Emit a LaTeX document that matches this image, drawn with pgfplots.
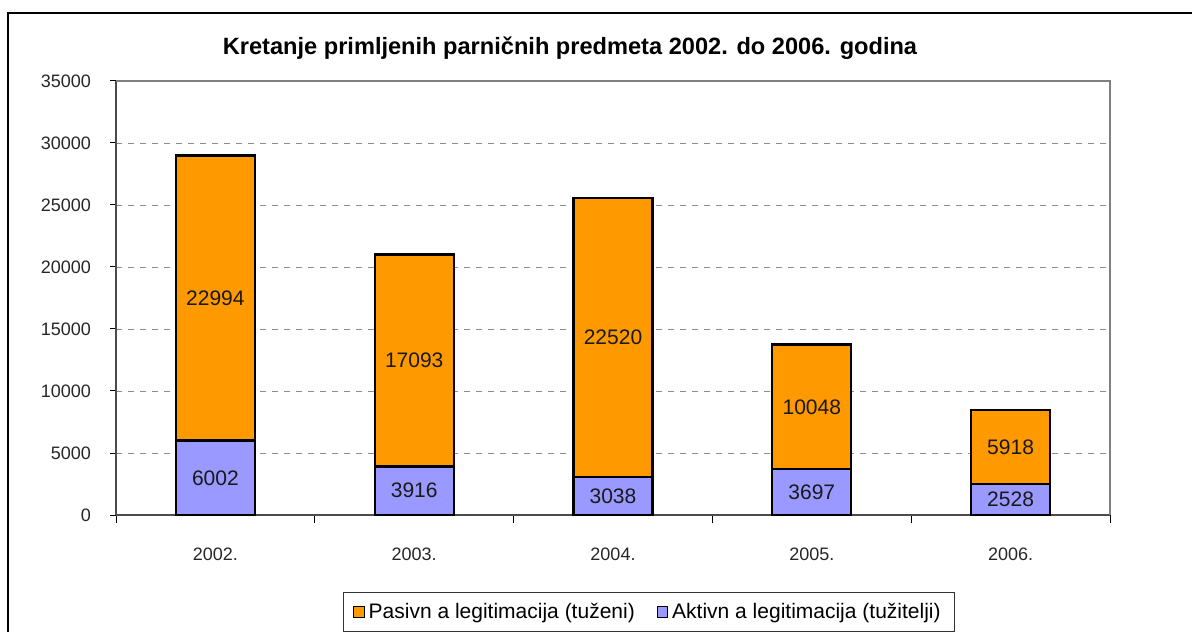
\documentclass[border=0pt]{standalone}
\usepackage{fontspec}
\setmainfont{Liberation Sans}
\usepackage{pgfplots}
\usepackage{pgfplotstable}
\pgfplotsset{compat=1.18}
\definecolor{Pas}{HTML}{FF9900}
\definecolor{Akt}{HTML}{9999FF}
\definecolor{Frame}{HTML}{808080}

\pgfplotstableread{
x akt pas
0 6002 22994
1 3916 17093
2 3038 22520
3 3697 10048
4 2528 5918
}\data

\pgfplotsset{common/.style={
    at={(58pt,58pt)},anchor=south west,
    scale only axis,width=497pt,height=217pt,
    xmin=-0.5,xmax=4.5,ymin=0,ymax=35000,
    scaled y ticks=false,
    /pgf/number format/.cd,1000 sep={},assume math mode=true,
    /pgfplots/.cd}}

\begin{document}
\begin{tikzpicture}
  \useasboundingbox (0,0) rectangle (596pt,315.5pt);
  % outer chart frame (cut off at right and bottom)
  \draw[black,line width=0.8pt] (4pt,-2pt) -- (4pt,309pt) -- (600pt,309pt);
  \node[font=\bfseries\fontsize{11.8}{14}\selectfont] at (285pt,291.5pt)
    {Kretanje primljenih parničnih predmeta 2002. do 2006. godina};
  \begin{axis}[common,
    ybar stacked,bar width=39.5pt,
    xtick={0,1,2,3,4},
    xticklabels={2002.,2003.,2004.,2005.,2006.},
    major x tick style={draw=none},
    minor xtick={-0.5,0.5,1.5,2.5,3.5,4.5},
    minor tick length=4pt,
    ytick={0,5000,...,35000},
    major tick length=3pt,
    tick align=outside,
    tick style={black,line width=0.5pt},
    axis x line*=bottom,axis y line*=left,
    axis line style={black!70,line width=0.6pt},
    x axis line style={-},y axis line style={-},
    ymajorgrids,grid style={dashed,black!45,line width=0.4pt},
    tick label style={font=\fontsize{9}{10}\selectfont,text=black!85},
    yticklabel style={xshift=-6pt},
    xticklabel style={yshift=-10pt},
    legend style={at={(0.5362,-0.2235)},anchor=center,legend columns=2,
      draw=black!80,line width=0.5pt,
      font=\fontsize{10.5}{12}\selectfont,
      inner xsep=5pt,inner ysep=3pt,
      /tikz/every even column/.append style={column sep=9pt}},
    legend cell align=left,
    legend image code/.code={\draw[#1,line width=0.5pt] (0pt,-2.6pt) rectangle (5.2pt,2.6pt);},
    clip=false,
  ]
    \addplot[fill=Akt,draw=black,line width=1.1pt,forget plot] table[x=x,y=akt]{\data};
    \addplot[fill=Pas,draw=black,line width=1.1pt,forget plot] table[x=x,y=pas]{\data};
    \addlegendimage{fill=Pas,draw=black}
    \addlegendentry{Pasivn a legitimacija (tuženi)}
    \addlegendimage{fill=Akt,draw=black}
    \addlegendentry{Aktivn a legitimacija (tužitelji)}
    \draw[Frame,line width=0.8pt] (rel axis cs:0,1) -- (rel axis cs:1,1) -- (rel axis cs:1,0);
  \end{axis}
  % value labels, centred in each segment
  \begin{axis}[common,axis lines=none,clip=false,
    nodes near coords,point meta=explicit,
    every node near coord/.append style={font=\fontsize{10.5}{12}\selectfont,
      text=black!90,anchor=center}]
    \addplot[draw=none,mark=none] table[x=x,y expr=\thisrow{akt}/2,meta=akt]{\data};
    \addplot[draw=none,mark=none] table[x=x,y expr=\thisrow{akt}+\thisrow{pas}/2,meta=pas]{\data};
  \end{axis}
\end{tikzpicture}
\end{document}
